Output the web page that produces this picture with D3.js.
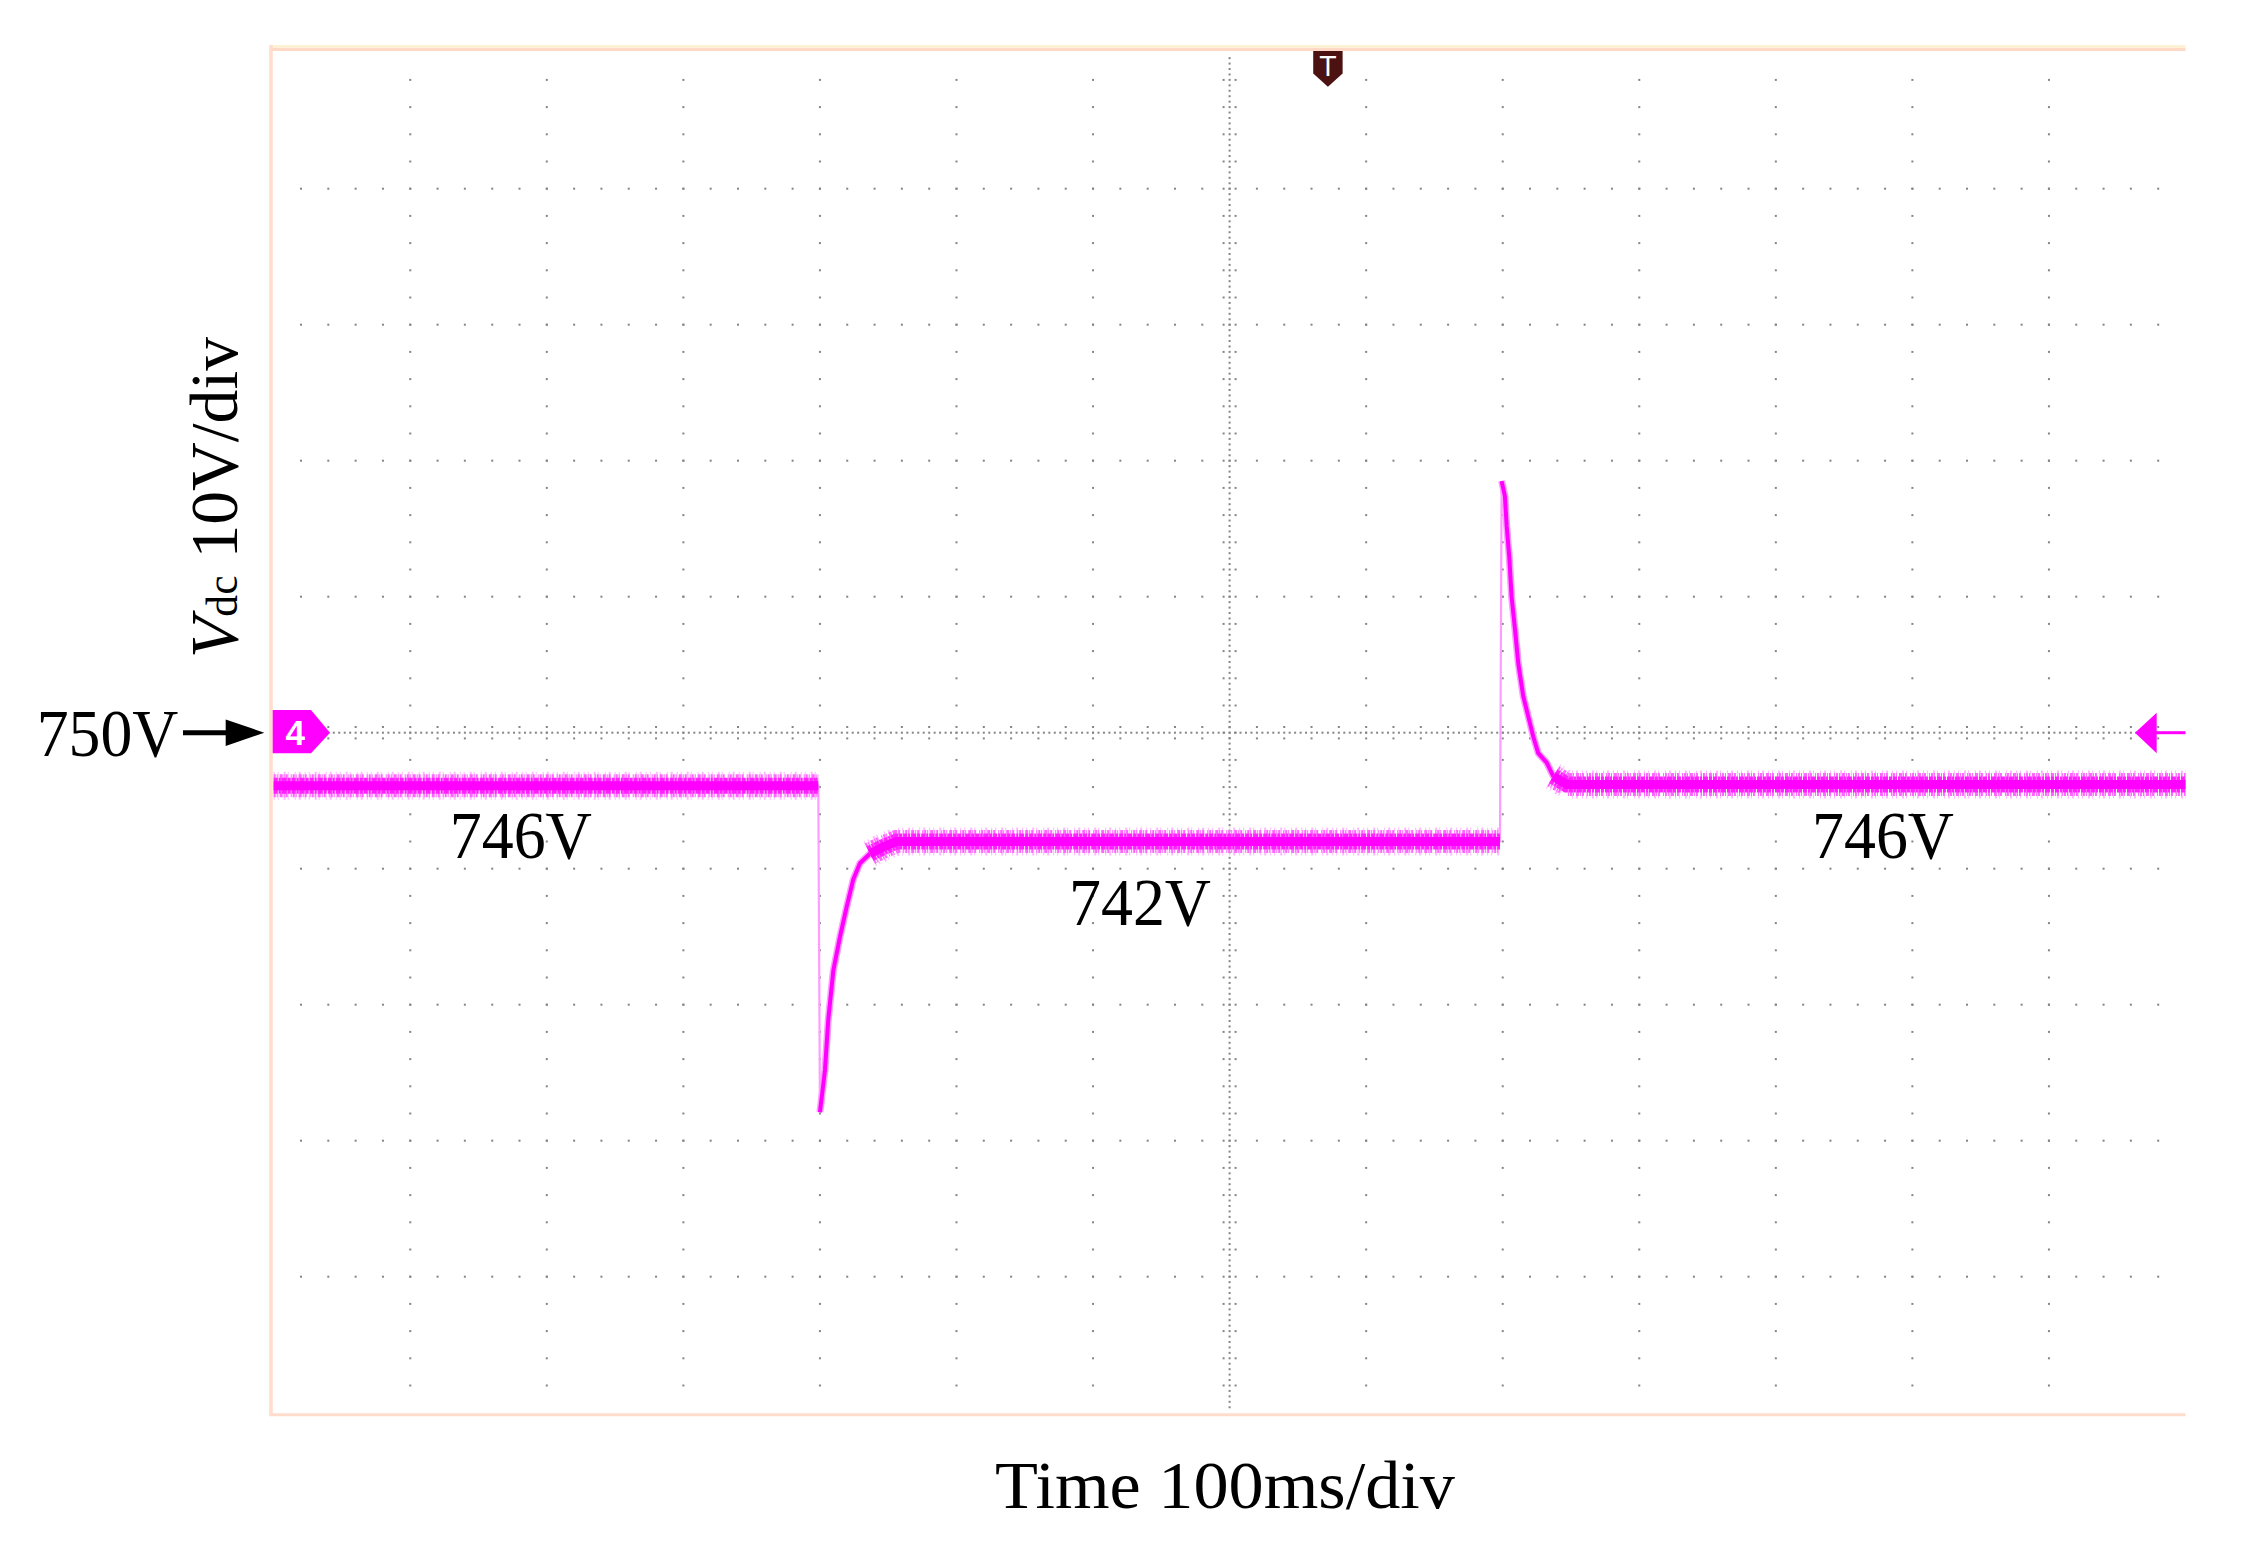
<!DOCTYPE html>
<html>
<head>
<meta charset="utf-8">
<script src="https://cdn.jsdelivr.net/npm/d3@7"></script>
<style>
  html, body { margin: 0; padding: 0; background: #ffffff; }
  svg { display: block; }
</style>
</head>
<body>
<svg id="chart" width="2252" height="1542"></svg>
<script>
// ---------------- DATA ----------------
// Oscilloscope trace (channel 4): time in ms, DC-link voltage in V
const traceTime = [0, 398.8, 400.0, 403.7, 406.1, 409.8, 414.7, 419.6, 424.4, 429.3, 436.6, 446.4, 456.2,
                   898.0, 899.2, 901.6, 902.9, 904.8, 906.5, 909.0, 911.4, 915.0, 918.7, 922.4, 926.0, 932.2, 937.0, 946.8, 1400];
const traceVolt = [746.1, 746.1, 722.1, 725.2, 728.9, 732.5, 735.0, 737.2, 739.2, 740.4, 741.1, 741.6, 742.0,
                   742.0, 768.5, 767.4, 765.2, 762.9, 760.0, 757.6, 755.1, 752.7, 751.2, 749.7, 748.5, 747.8, 746.8, 746.2, 746.2];
// steady (noisy) intervals of the trace, ms
const steadyStart = [0, 436.6, 937.0];
const steadyEnd   = [398.8, 898.0, 1400];
// transient intervals, ms
const transStart = [400.0, 899.2];
const transEnd   = [446.4, 946.8];

// Axis settings (scope screen): 14 div x 100 ms, 10 div x 10 V
const timeDomain = [0, 1400];
const voltDomain = [700, 800];
const refVolt = 750;          // channel reference level
const centerTime = 700;       // centre graticule line
const triggerTime = 772;      // trigger marker position

// Annotations (data coordinates)
const annText = ["746V", "742V", "746V"];
const annTime = [181, 634.4, 1178.5];
const annVolt = [740.8, 735.86, 740.8];

const xTitle = "Time 100ms/div";
const yTitleMain = "V";
const yTitleSub = "dc";
const yTitleRest = " 10V/div";
const refLabel = "750V";

// ---------------- LAYOUT ----------------
const svg = d3.select("#chart");
const X0 = 273.7, X1 = 2185.5, Y0 = 52.7, Y1 = 1412.7;
const x = d3.scaleLinear().domain(timeDomain).range([X0, X1]);
const y = d3.scaleLinear().domain(voltDomain).range([Y1, Y0]);

const serif = "'Liberation Serif', 'Times New Roman', serif";
const gridColor = "#858585";

// ---------------- FRAME ----------------
const frame = svg.append("g");
frame.append("line").attr("x1", 269.5).attr("x2", X1).attr("y1", 46.5).attr("y2", 46.5)
  .attr("stroke", "#fff1d6").attr("stroke-width", 3);
frame.append("line").attr("x1", 269.5).attr("x2", X1).attr("y1", 49.5).attr("y2", 49.5)
  .attr("stroke", "#ffd9c6").attr("stroke-width", 3);
frame.append("line").attr("x1", 271).attr("x2", 271).attr("y1", 45).attr("y2", 1416)
  .attr("stroke", "#ffdccb").attr("stroke-width", 3.5);
frame.append("line").attr("x1", 269.5).attr("x2", X1).attr("y1", 1414.7).attr("y2", 1414.7)
  .attr("stroke", "#ffdccb").attr("stroke-width", 3);

// ---------------- GRATICULE ----------------
const grid = svg.append("g");
const dots = [];
const majorT = x.ticks(14).filter(t => t > timeDomain[0] && t < timeDomain[1]);
const majorV = y.ticks(10).filter(v => v > voltDomain[0] && v < voltDomain[1]);
const minorVs = d3.range(voltDomain[0] + 2, voltDomain[1] - 0.01, 2);
const minorTs = d3.range(timeDomain[0] + 20, timeDomain[1] - 0.01, 20);

majorT.filter(t => t !== centerTime).forEach(t => minorVs.forEach(v => dots.push([x(t), y(v)])));
majorV.filter(v => v !== refVolt).forEach(v => minorTs.forEach(t => dots.push([x(t), y(v)])));
// centre vertical line: fine dots + ticks
d3.range(voltDomain[0] + 0.4, voltDomain[1] - 0.01, 0.4).forEach(v => dots.push([x(centerTime), y(v)]));
minorVs.forEach(v => { dots.push([x(centerTime) - 6, y(v)]); dots.push([x(centerTime) + 6, y(v)]); });
// centre horizontal line: fine dots + ticks
d3.range(timeDomain[0] + 4, timeDomain[1] - 0.01, 4).forEach(t => dots.push([x(t), y(refVolt)]));
minorTs.forEach(t => { dots.push([x(t), y(refVolt) - 5.7]); dots.push([x(t), y(refVolt) + 5.7]); });

grid.selectAll("rect").data(dots).join("rect")
  .attr("x", d => d[0] - 1).attr("y", d => d[1] - 1)
  .attr("width", 2).attr("height", 2).attr("fill", gridColor);

// ---------------- TRACE ----------------
const pts = traceTime.map((t, i) => [t, traceVolt[i]]);
const line = d3.line().x(d => x(d[0])).y(d => y(d[1]));
const tr = svg.append("g");

// thin full trace (shows the vertical steps faintly)
tr.append("path").attr("d", line(pts)).attr("fill", "none")
  .attr("stroke", "#ff9cff").attr("stroke-width", 2.2);

// transients
transStart.forEach((s, i) => {
  const seg = pts.filter(p => p[0] >= s - 1e-6 && p[0] <= transEnd[i] + 1e-6);
  const d = line(seg);
  tr.append("path").attr("d", d).attr("fill", "none")
    .attr("stroke", "#ff9cff").attr("stroke-width", 7).attr("stroke-linejoin", "round");
  tr.append("path").attr("d", d).attr("fill", "none")
    .attr("stroke", "#ff00ff").attr("stroke-width", 4).attr("stroke-linejoin", "round");
});

// noisy steady bands
steadyStart.forEach((s, i) => {
  const seg = pts.filter(p => p[0] >= s - 1e-6 && p[0] <= steadyEnd[i] + 1e-6);
  const d = line(seg);
  tr.append("path").attr("d", d).attr("fill", "none")
    .attr("stroke", "#ffb8ff").attr("stroke-width", 28)
    .attr("stroke-dasharray", "1 3 1 5 2 2 1 6 1 3 2 4");
  tr.append("path").attr("d", d).attr("fill", "none")
    .attr("stroke", "#ff66ff").attr("stroke-width", 23)
    .attr("stroke-dasharray", "2 1 1 2 3 1 1 1 2 3 1 1");
  tr.append("path").attr("d", d).attr("fill", "none")
    .attr("stroke", "#ff22ff").attr("stroke-width", 16)
    .attr("stroke-dasharray", "4 1 2 1 5 1 3 1");
  tr.append("path").attr("d", d).attr("fill", "none")
    .attr("stroke", "#ff00ff").attr("stroke-width", 9);
});

// ---------------- MARKERS ----------------
const yr = y(refVolt);
// channel 4 reference flag
svg.append("path")
  .attr("d", `M${X0 - 1},${yr - 22.7} H${X0 + 37.3} L${X0 + 56.3},${yr} L${X0 + 37.3},${yr + 20.6} H${X0 - 1} Z`)
  .attr("fill", "#ff00ff");
svg.append("text").attr("x", X0 + 21.5).attr("y", yr + 12)
  .attr("text-anchor", "middle").attr("font-family", "'Liberation Sans', Arial, sans-serif")
  .attr("font-weight", "bold").attr("font-size", 35).attr("fill", "#ffffff").text("4");

// right-side reference arrow
svg.append("path")
  .attr("d", `M2135,${yr} L2156.7,${yr - 20} L2156.7,${yr + 20.6} Z`).attr("fill", "#ff00ff");
svg.append("line").attr("x1", 2156).attr("x2", X1).attr("y1", yr).attr("y2", yr)
  .attr("stroke", "#ff00ff").attr("stroke-width", 3);

// trigger marker
const xt = x(triggerTime);
svg.append("path")
  .attr("d", `M${xt - 14.7},51 H${xt + 14.7} V73.5 L${xt},86.7 L${xt - 14.7},73.5 Z`)
  .attr("fill", "#4c1212");
svg.append("text").attr("x", xt).attr("y", 76).attr("text-anchor", "middle")
  .attr("font-family", "'DejaVu Sans', sans-serif").attr("font-size", 26)
  .attr("fill", "#ffffff").text("T");

// ---------------- TEXT ----------------
// 750V reference label and arrow
svg.append("text").attr("x", 36.7).attr("y", 756).attr("font-family", serif)
  .attr("font-size", 68).attr("textLength", 141.6).attr("lengthAdjust", "spacingAndGlyphs")
  .attr("fill", "#000").text(refLabel);
svg.append("line").attr("x1", 183).attr("x2", 230).attr("y1", yr).attr("y2", yr)
  .attr("stroke", "#000").attr("stroke-width", 5);
svg.append("path").attr("d", `M225.7,${yr - 13.3} L264.3,${yr} L225.7,${yr + 13.3} Z`).attr("fill", "#000");

// level annotations
svg.selectAll("text.ann").data(annText).join("text").attr("class", "ann")
  .attr("x", (d, i) => x(annTime[i])).attr("y", (d, i) => y(annVolt[i]))
  .attr("text-anchor", "middle").attr("font-family", serif).attr("font-size", 68)
  .attr("textLength", 142).attr("lengthAdjust", "spacingAndGlyphs")
  .attr("fill", "#000").text(d => d);

// x-axis title
svg.append("text").attr("x", 995).attr("y", 1508).attr("font-family", serif)
  .attr("font-size", 68).attr("textLength", 460).attr("lengthAdjust", "spacingAndGlyphs")
  .attr("fill", "#000").text(xTitle);

// y-axis title (rotated)
const yt = svg.append("text").attr("transform", "translate(237,658) rotate(-90)")
  .attr("font-family", serif).attr("font-size", 68).attr("fill", "#000")
  .attr("textLength", 321).attr("lengthAdjust", "spacingAndGlyphs");
yt.append("tspan").attr("font-style", "italic").text(yTitleMain);
yt.append("tspan").attr("font-size", 44).text(yTitleSub);
yt.append("tspan").text(yTitleRest);
</script>
</body>
</html>
